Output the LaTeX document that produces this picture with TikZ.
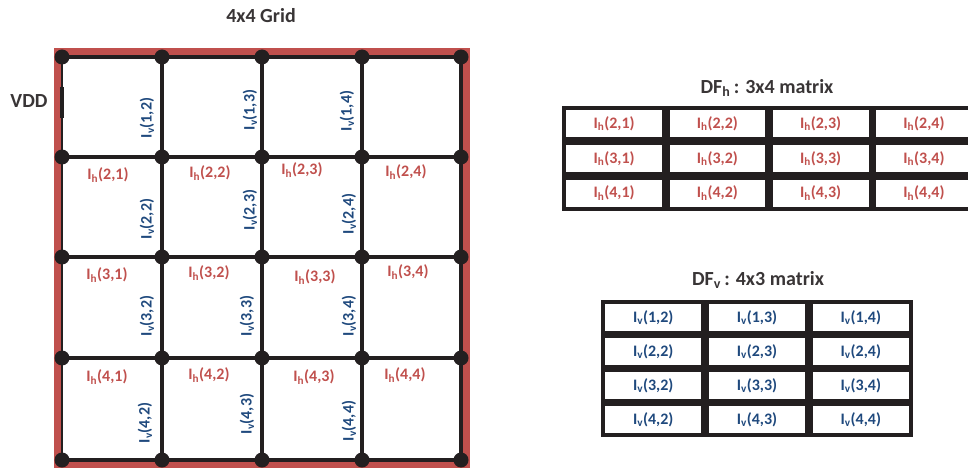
\documentclass[tikz,border=0pt]{standalone}
\usepackage{fontspec}
\setmainfont{Carlito}
\usetikzlibrary{matrix}
\definecolor{gridred}{RGB}{192,80,77}
\definecolor{curblue}{RGB}{31,73,125}
\definecolor{wire}{RGB}{35,31,32}
\newcommand{\Ih}[1]{I\textsubscript{h}(#1)}
\newcommand{\Iv}[1]{I\textsubscript{v}(#1)}

\begin{document}
\begin{tikzpicture}[x=1pt,y=-1pt,
    font=\fontsize{16}{19}\selectfont\bfseries,
    wireline/.style={draw=wire, line width=3.8pt},
    junction/.style={circle, fill=wire, inner sep=0pt, minimum size=15pt},
    hlabel/.style={text=gridred, inner sep=0pt},
    vlabel/.style={text=curblue, rotate=90, inner sep=0pt},
    heading/.style={font=\fontsize{20}{24}\selectfont\bfseries, text=wire!90},
    cell/.style={draw=wire, line width=3.8pt, outer sep=0pt, inner sep=0pt}]
  \useasboundingbox (0,0) rectangle (968,470);

  % supply frame
  \draw[gridred, line width=8pt] (58,52) rectangle (466,464);

  % grid junctions
  \foreach \r/\y in {1/57,2/157,3/257,4/358,5/460}
    \foreach \c/\x in {1/62,2/162,3/262,4/362,5/461}
      \node[junction] (n\r\c) at (\x,\y) {};

  % wires
  \foreach \r in {1,...,5}
    \draw[wireline] (n\r1.center) -- (n\r2.center) -- (n\r3.center) -- (n\r4.center) -- (n\r5.center);
  \foreach \c in {2,...,5}
    \draw[wireline] (n1\c.center) -- (n2\c.center) -- (n3\c.center) -- (n4\c.center) -- (n5\c.center);
  \draw[draw=wire, line width=1.8pt] (n11.center) -- (n51.center);

  % VDD tap
  \coordinate (vddtop) at (62,87);
  \coordinate (vddbot) at (62,118);
  \draw[draw=wire, line width=4.5pt] (vddtop) -- (vddbot);
  \node[heading] (vdd) at (29,101) {VDD};
  \node[heading] (gridtitle) at (261,16) {4x4 Grid};

  % horizontal currents
  \node[hlabel] (h21) at (108,175) {\Ih{2,1}};
  \node[hlabel] (h22) at (210,173) {\Ih{2,2}};
  \node[hlabel] (h23) at (302,170) {\Ih{2,3}};
  \node[hlabel] (h24) at (406,172) {\Ih{2,4}};
  \node[hlabel] (h31) at (107,275) {\Ih{3,1}};
  \node[hlabel] (h32) at (209,273) {\Ih{3,2}};
  \node[hlabel] (h33) at (315,277) {\Ih{3,3}};
  \node[hlabel] (h34) at (408,272) {\Ih{3,4}};
  \node[hlabel] (h41) at (107,377) {\Ih{4,1}};
  \node[hlabel] (h42) at (209,375) {\Ih{4,2}};
  \node[hlabel] (h43) at (314,377) {\Ih{4,3}};
  \node[hlabel] (h44) at (405,375) {\Ih{4,4}};

  % vertical currents
  \node[vlabel] (v12) at (147,118) {\Iv{1,2}};
  \node[vlabel] (v13) at (250,110) {\Iv{1,3}};
  \node[vlabel] (v14) at (347,111) {\Iv{1,4}};
  \node[vlabel] (v22) at (147,219) {\Iv{2,2}};
  \node[vlabel] (v23) at (250,210) {\Iv{2,3}};
  \node[vlabel] (v24) at (349,214) {\Iv{2,4}};
  \node[vlabel] (v32) at (147,316) {\Iv{3,2}};
  \node[vlabel] (v33) at (247,316) {\Iv{3,3}};
  \node[vlabel] (v34) at (349,316) {\Iv{3,4}};
  \node[vlabel] (v42) at (145,423) {\Iv{4,2}};
  \node[vlabel] (v43) at (247,414) {\Iv{4,3}};
  \node[vlabel] (v44) at (349,421) {\Iv{4,4}};

  % DF_h matrix
  \node[heading] (dfhtitle) at (767,88) {DF\textsubscript{h}\,: 3x4 matrix};
  \matrix (dfh) [matrix of nodes, column sep=0pt, row sep=0pt,
      nodes={cell, text=gridred, minimum width=99.5pt, minimum height=31pt}]
      at (769,158.5) {
    \Ih{2,1} & \Ih{2,2} & \Ih{2,3} & \Ih{2,4} \\
    \Ih{3,1} & \Ih{3,2} & \Ih{3,3} & \Ih{3,4} \\
    \Ih{4,1} & \Ih{4,2} & \Ih{4,3} & \Ih{4,4} \\
  };

  % DF_v matrix
  \node[heading] (dfvtitle) at (758,280) {DF\textsubscript{v}\,: 4x3 matrix};
  \matrix (dfv) [matrix of nodes, column sep=0pt, row sep=0pt,
      nodes={cell, text=curblue, minimum width=100pt, minimum height=30.25pt}]
      at (757,368.5) {
    \Iv{1,2} & \Iv{1,3} & \Iv{1,4} \\
    \Iv{2,2} & \Iv{2,3} & \Iv{2,4} \\
    \Iv{3,2} & \Iv{3,3} & \Iv{3,4} \\
    \Iv{4,2} & \Iv{4,3} & \Iv{4,4} \\
  };
\end{tikzpicture}
\end{document}
